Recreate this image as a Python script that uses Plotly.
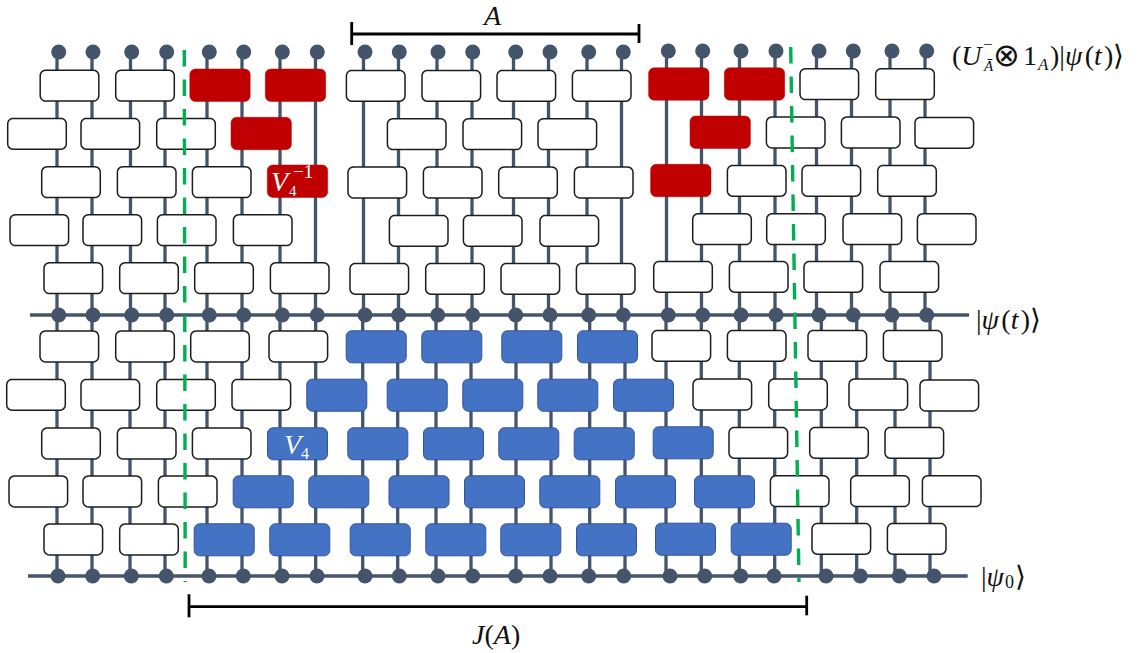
import math
import plotly.graph_objects as go

# ---- diagram data (the diagram has no numeric data: values are layout units of the tensor network) ----
WIRES_UPPER = [57, 92, 130.5, 165, 207, 242, 280, 315.5, 363.5, 398.5, 437, 472, 513.5, 548.5, 587, 621.5,
               666.5, 701.5, 739.5, 775, 816.5, 851.5, 890, 925]
WIRES_LOWER = [57, 92, 130, 165, 207, 242, 280, 315.7, 362.7, 397.7, 436, 471, 516, 551, 589.7, 625,
               666, 701.3, 739.3, 774.7, 821.3, 856.7, 895, 930]
DOTS_TOP = [58.7, 93, 131.7, 166.7, 209.3, 243.7, 282.3, 317.3, 365, 399.3, 438, 472.7, 515.7, 550, 588.7, 623.3,
            668.3, 702.7, 741, 776, 819, 853.3, 892, 926.7]
DOTS_TOP_Y = [52] * 16 + [51] * 8
DOTS_MID = [58.7, 93, 131.7, 166.7, 209.3, 243.7, 282.3, 317.3, 365, 398.7, 437.7, 472.7, 515.7, 550, 588.7, 623.3,
            668.3, 702.7, 741, 776, 819, 853.3, 892, 926.7]
DOTS_BOT = [58, 92.7, 131.3, 166.3, 209, 243.3, 282, 317, 365, 399.3, 438, 472.7, 515.7, 550, 588.7, 623.7,
            670, 704.7, 740.7, 774, 826, 860.3, 899.3, 934]

WHITE_LEFT = [39.5, 115, 345.7, 421.3, 496.3, 571.7, 799.3, 875,
              7, 80.3, 156, 386.7, 462.3, 537.3, 765.7, 840.7, 914.3,
              41, 116.7, 191.7, 347.3, 422.7, 498, 573.7, 726.7, 801.3, 877,
              9.3, 82.3, 156.7, 232.7, 388.7, 462.7, 539.3, 692, 766, 842.3, 916.7,
              43.3, 119, 194, 269.7, 349.3, 425, 500.3, 575.7, 653, 728.7, 803.3, 879.3,
              39.3, 115, 190, 268.3, 651.3, 726.7, 807.3, 882.7,
              6, 80.3, 156, 231.3, 692.3, 768, 848.3, 919.3,
              41, 116.7, 191.7, 728.3, 809, 884.3,
              8.3, 82.3, 157.7, 769.7, 850, 921.7,
              43.3, 119, 811.3, 886.7]
WHITE_TOP = [69.5] * 2 + [69.7] * 4 + [68] * 2 + \
            [117.7] * 3 + [118] * 3 + [116.3] * 2 + [116.7] + \
            [166] * 3 + [166.3] * 4 + [164.7] * 3 + \
            [214] * 4 + [214.7] * 3 + [213] * 4 + \
            [262] * 4 + [262.7] * 4 + [260.7] * 4 + \
            [330.3] * 4 + [329.7] * 4 + \
            [378.7] * 4 + [378.3] * 3 + [379.3] + \
            [427.3] * 3 + [426.7] * 3 + \
            [475.3] * 3 + [475] * 3 + \
            [523.3] * 2 + [522.7] * 2

RED_LEFT = [189.5, 265, 648.3, 724, 230.7, 689.7, 267, 650.3]
RED_TOP = [68.7, 68.7, 67.5, 67.5, 117, 115.7, 164.7, 164]

BLUE_LEFT = [345.7, 421.3, 501.3, 577,
             306.3, 386.7, 462.3, 537.3, 613,
             267, 347.3, 423, 498.3, 573.7, 652.7,
             232.7, 308.3, 388.5, 464, 539.3, 615, 694,
             193.7, 269.3, 349.7, 425.3, 500.3, 576, 655, 730.7]
BLUE_TOP = [330.3] * 4 + [378.7] * 5 + [427.3] * 5 + [426.3] + [475.3] * 7 + [523.3] * 6 + [522.7] * 2

GREEN_X = [[184.3, 185.2], [790.7, 799]]
GREEN_Y = [[50, 582], [47, 582]]

BRACKET_X = [[351.7, 639], [189, 806.7]]
BRACKET_Y = [34, 606.7]
BRACKET_TICKS = [[(22, 45), (24, 43)], [(594.3, 617.3), (595.7, 615.3)]]

RAIL_Y = [315, 576]
RAIL_X = [[30, 969], [28, 967.7]]

SERIF = "Liberation Serif"
INK = "#111111"
HAIR = "\u200a"
LABELS = [
    # text, x, y, size, colour, anchor
    ("<i>A</i>", 491.7, 15, 28, INK, "center"),
    ("<i>J</i>(<i>A</i>)", 496, 634, 28, INK, "center"),
    (f"|<i>ψ</i>{HAIR}(<i>t</i>{HAIR})⟩", 976, 319, 28, INK, "left"),
    ("|<i>ψ</i>", 981, 576, 28, INK, "left"),
    ("0", 1005, 582, 18, INK, "left"),
    ("⟩", 1015, 576, 28, INK, "left"),
    ("(<i>U</i>", 952, 55, 28, INK, "left"),
    ("<i>Ā</i>", 982.5, 66, 15, INK, "left"),
    ("−", 983, 44, 17, INK, "left"),
    ("⊗", 993, 55, 32, INK, "left"),
    ("1", 1023, 55, 28, INK, "left"),
    ("<i>A</i>", 1037, 64, 17, INK, "left"),
    (f")|<i>ψ</i>{HAIR}(<i>t</i>{HAIR})⟩", 1050, 55, 28, INK, "left"),
    ("<i>V</i>", 271, 181, 28, "#ffffff", "left"),
    ("4", 288.5, 190.5, 15, "#ffffff", "left"),
    ("−1", 293, 171, 19, "#ffffff", "left"),
    ("<i>V</i>", 284, 444, 28, "#ffffff", "left"),
    ("4", 301, 453, 16, "#ffffff", "left"),
]

WIRE_COLOR = "#44546A"
RADIUS = 5.5


def rounded(lefts, tops, w, h, inset):
    xs, ys = [], []
    r = RADIUS
    for l, t in zip(lefts, tops):
        x0, y0 = l + inset, t + inset
        x1, y1 = x0 + w - 2 * inset, y0 + h - 2 * inset
        corners = [(x1 - r, y0 + r, -90), (x1 - r, y1 - r, 0), (x0 + r, y1 - r, 90), (x0 + r, y0 + r, 180)]
        first = None
        for cx, cy, a0 in corners:
            for k in range(7):
                a = math.radians(a0 + k * 15)
                px, py = cx + r * math.cos(a), cy + r * math.sin(a)
                if first is None:
                    first = (px, py)
                xs.append(px)
                ys.append(py)
        xs += [first[0], None]
        ys += [first[1], None]
    return xs, ys


fig = go.Figure()


def line(xs, ys, color, width, dash=None):
    fig.add_trace(go.Scatter(x=xs, y=ys, mode="lines", hoverinfo="skip", showlegend=False,
                             line=dict(color=color, width=width, dash=dash, simplify=False)))


# wires
ux, uy, lx, ly = [], [], [], []
for x, y in zip(WIRES_UPPER, DOTS_TOP_Y):
    ux += [x, x, None]
    uy += [y, RAIL_Y[0], None]
for x in WIRES_LOWER:
    lx += [x, x, None]
    ly += [RAIL_Y[0], RAIL_Y[1], None]
line(ux, uy, WIRE_COLOR, 3.3)
line(lx, ly, WIRE_COLOR, 3.3)
for xr, y in zip(RAIL_X, RAIL_Y):
    line(xr, [y, y], WIRE_COLOR, 3.6)

# gates
for lefts, tops, fill, edge, lw, inset in [
    (WHITE_LEFT, WHITE_TOP, "#ffffff", "#1c1c1c", 1.5, 0.7),
    (BLUE_LEFT, BLUE_TOP, "#4472C4", "#2F5597", 1.0, 0.5),
    (RED_LEFT, RED_TOP, "#C00000", "#C00000", 0.5, 0.3),
]:
    w, h = (60, 32.3) if fill == "#ffffff" else (61, 33)
    xs, ys = rounded(lefts, tops, w, h, inset)
    fig.add_trace(go.Scatter(x=xs, y=ys, mode="lines", fill="toself", fillcolor=fill, hoverinfo="skip",
                             showlegend=False, line=dict(color=edge, width=lw, simplify=False)))

# dots
for xs, ys in [(DOTS_TOP, DOTS_TOP_Y), (DOTS_MID, [RAIL_Y[0]] * 24), (DOTS_BOT, [RAIL_Y[1]] * 24)]:
    fig.add_trace(go.Scatter(x=xs, y=ys, mode="markers", hoverinfo="skip", showlegend=False,
                             marker=dict(color=WIRE_COLOR, size=15, line=dict(width=0))))

# entanglement cuts
for xs, ys in zip(GREEN_X, GREEN_Y):
    line(xs, ys, "#00B050", 3.4, dash="16.5px,13px")

# brackets
for xr, y, ticks in zip(BRACKET_X, BRACKET_Y, BRACKET_TICKS):
    line(xr, [y, y], "#000000", 2.8)
    for x, (a, b) in zip(xr, ticks):
        line([x, x], [a, b], "#000000", 2.8)

for text, x, y, size, color, anchor in LABELS:
    fig.add_annotation(text=text, x=x, y=y, xref="x", yref="y", showarrow=False, xanchor=anchor, yanchor="middle",
                       font=dict(family=SERIF, size=size, color=color), borderpad=0, borderwidth=0)

fig.update_layout(width=1142, height=653, margin=dict(l=0, r=0, t=0, b=0), paper_bgcolor="#ffffff",
                  plot_bgcolor="#ffffff", showlegend=False,
                  xaxis=dict(range=[0, 1142], visible=False, fixedrange=True),
                  yaxis=dict(range=[653, 0], visible=False, fixedrange=True))

fig.write_html("out.html", config=dict(displayModeBar=False),
               post_script="document.body.style.margin='0';document.documentElement.style.overflow='hidden';")
